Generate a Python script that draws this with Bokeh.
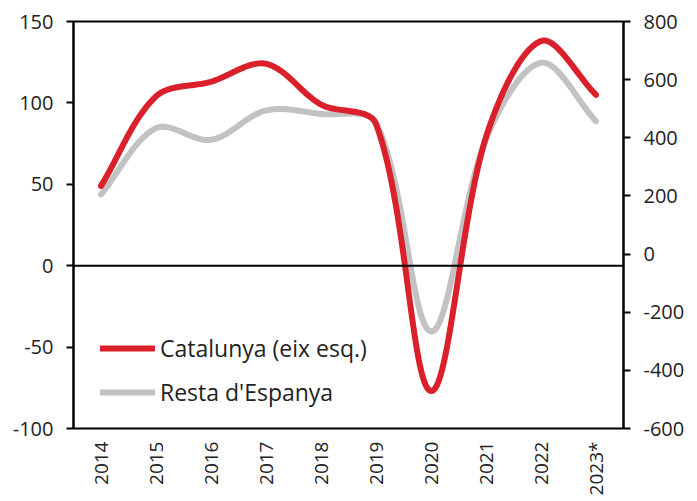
import numpy as np
from bokeh.plotting import figure
from bokeh.models import Range1d, LinearAxis, FixedTicker, Span, Legend, LegendItem
from bokeh.embed import file_html
from bokeh.resources import INLINE

years = ["2014", "2015", "2016", "2017", "2018", "2019", "2020", "2021", "2022", "2023*"]
catalunya = [49, 104, 113, 124, 99, 87, -77, 79, 138, 105]
resta = [205, 433, 393, 494, 482, 452, -266, 395, 658, 457]
left_ticks = [-100, -50, 0, 50, 100, 150]
right_ticks = [-600, -400, -200, 0, 200, 400, 600, 800]

FONT = "Open Sans"
RED = "#D9202B"
GRAY = "#C2C2C2"
TXT = "#222222"

FRAME_W, FRAME_H = 550, 407


def smooth(xs, ys, ymin, ymax, xmax, n=40):
    """Chord-weighted Bezier smoothing (like spreadsheet 'smoothed line')."""
    xs = np.asarray(xs, float)
    ys = np.asarray(ys, float)
    sx = FRAME_W / xmax
    sy = FRAME_H / (ymax - ymin)
    P = np.column_stack([xs * sx, ys * sy])
    m = len(P)
    ext = np.vstack([P[0], P, P[-1]])
    out = []
    for i in range(m - 1):
        p0, p1, p2, p3 = ext[i], ext[i + 1], ext[i + 2], ext[i + 3]
        d01 = np.linalg.norm(p1 - p0)
        d12 = np.linalg.norm(p2 - p1)
        d23 = np.linalg.norm(p3 - p2)
        f1 = d12 / (d01 + d12) if d01 + d12 > 0 else 0
        f2 = d12 / (d12 + d23) if d12 + d23 > 0 else 0
        c1 = p1 + (p2 - p0) * f1 / 3
        c2 = p2 - (p3 - p1) * f2 / 3
        t = np.linspace(0, 1, n, endpoint=(i == m - 2))[:, None]
        seg = (1 - t) ** 3 * p1 + 3 * (1 - t) ** 2 * t * c1 + 3 * (1 - t) * t ** 2 * c2 + t ** 3 * p2
        out.append(seg)
    out = np.vstack(out)
    return list(out[:, 0] / sx), list(out[:, 1] / sy)


xpos = [i + 0.5 for i in range(len(years))]

p = figure(width=693, height=498, output_backend="svg", toolbar_location=None,
           x_range=Range1d(0, len(years)), y_range=Range1d(-100, 150),
           min_border_left=73, min_border_right=70, min_border_top=21, min_border_bottom=70)
p.extra_y_ranges = {"right": Range1d(-600, 800)}

p.grid.visible = False
p.outline_line_color = "black"
p.outline_line_width = 2
p.background_fill_color = "white"
p.border_fill_color = "white"

cx, cy = smooth(xpos, catalunya, -100, 150, len(years))
rx, ry = smooth(xpos, resta, -600, 800, len(years))
r_gray = p.line(rx, ry, line_color=GRAY, line_width=6, y_range_name="right", line_cap="round", line_join="round")
r_red = p.line(cx, cy, line_color=RED, line_width=6, line_cap="round", line_join="round")

p.add_layout(Span(location=0, dimension="width", line_color="black", line_width=2))

# x axis
xa = p.xaxis[0]
xa.ticker = FixedTicker(ticks=xpos)
xa.major_label_overrides = {x: y for x, y in zip(xpos, years)}
xa.major_label_orientation = np.pi / 2
xa.major_tick_line_color = None
xa.major_tick_out = 0
xa.major_tick_in = 0
xa.minor_tick_line_color = None
xa.axis_line_color = None
xa.major_label_text_font = FONT
xa.major_label_text_font_size = "19px"
xa.major_label_text_color = TXT
xa.major_label_standoff = 13


def style_y(ax, ticks):
    ax.ticker = FixedTicker(ticks=ticks)
    ax.major_label_overrides = {t: str(t) for t in ticks}
    ax.axis_line_width = 2
    ax.major_tick_line_width = 2
    ax.major_tick_out = 7
    ax.major_tick_in = 0
    ax.minor_tick_line_color = None
    ax.major_label_text_font = FONT
    ax.major_label_text_font_size = "20px"
    ax.major_label_text_color = TXT
    ax.major_label_standoff = 13


style_y(p.yaxis[0], left_ticks)
ra = LinearAxis(y_range_name="right")
style_y(ra, right_ticks)
p.add_layout(ra, "right")

legend = Legend(items=[LegendItem(label="Catalunya (eix esq.)", renderers=[r_red]),
                       LegendItem(label="Resta d'Espanya", renderers=[r_gray])],
                location=(27, 20))
legend.background_fill_alpha = 0
legend.border_line_color = None
legend.padding = 0
legend.margin = 0
legend.spacing = 12
legend.glyph_width = 55
legend.glyph_height = 26
legend.label_height = 26
legend.label_standoff = 5
legend.label_text_font = FONT
legend.label_text_font_size = "23px"
legend.label_text_color = TXT
p.add_layout(legend, "center")

open("out.html", "w").write(file_html(p, INLINE))
